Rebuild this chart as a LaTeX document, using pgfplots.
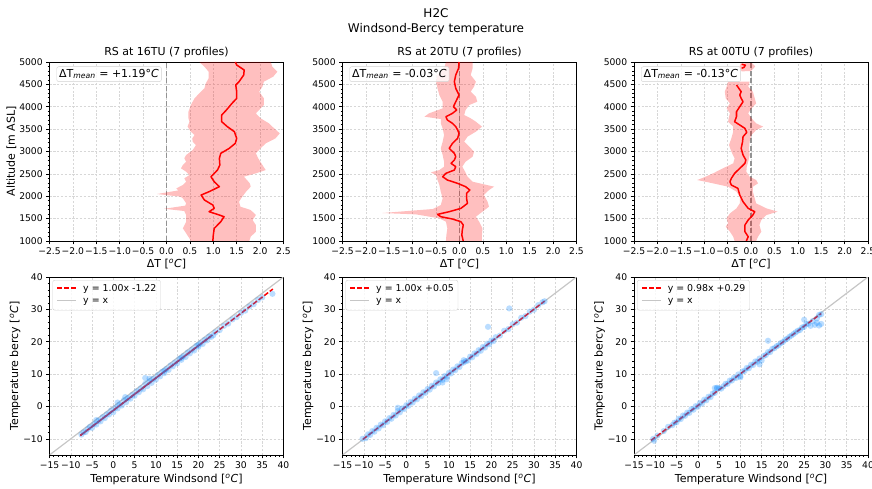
\documentclass[border=0pt]{standalone}
\usepackage{fontspec}
\setmainfont{DejaVu Sans}
\usepackage{pgfplots}
\pgfplotsset{compat=1.18}
\definecolor{scat}{RGB}{30,144,255}
\definecolor{gridc}{RGB}{215,215,215}
% legend samples
\newcommand{\fitkey}{\tikz[baseline=-0.35em]\draw[red, line width=1.5pt, dash pattern=on 5pt off 2pt] (0pt,0pt) -- (19pt,0pt);}
\newcommand{\idkey}{\tikz[baseline=-0.35em]\draw[gray!45, line width=1.2pt] (0pt,0pt) -- (19pt,0pt);}
\newcommand{\legtab}[1]{\fontsize{9.4}{12.5}\selectfont
  \begin{tabular}{@{}l@{\hspace{6pt}}l@{}}\fitkey & #1\\ \idkey & y = x\end{tabular}}

\tikzset{
  dtbox/.style={draw=gray!35, rounded corners=2pt, fill=white, fill opacity=0.8,
    text opacity=1, anchor=north west, font=\fontsize{11}{13}\selectfont, inner sep=2.5pt},
  legbox/.style={draw=gray!35, rounded corners=2pt, fill=white, fill opacity=0.8,
    text opacity=1, anchor=north west, inner xsep=4pt, inner ysep=2.5pt},
}
\pgfplotsset{
  base/.style={
    scale only axis, width=234pt, anchor=north west,
    axis line style={line width=0.6pt},
    tick align=outside, tick pos=left,
    major tick length=3.3pt, minor tick length=1.9pt,
    every tick/.style={black, line width=0.6pt},
    grid=major,
    major grid style={gridc, dash pattern=on 2.2pt off 1.6pt, line width=0.5pt},
    tick label style={font=\fontsize{9.2}{10}\selectfont},
    label style={font=\fontsize{11}{13}\selectfont},
    title style={font=\fontsize{11}{13}\selectfont, yshift=-5pt},
    ylabel style={yshift=-4pt},
    /pgf/number format/assume math mode=true,
    /pgf/number format/1000 sep={},
  },
  toprow/.style={base, height=179pt,
    xmin=-2.5, xmax=2.5, ymin=1000, ymax=5000,
    xtick={-2.5,-2,-1.5,-1,-0.5,0,0.5,1,1.5,2,2.5},
    xticklabels={−2.5,−2.0,−1.5,−1.0,−0.5,0.0,0.5,1.0,1.5,2.0,2.5},
    ytick={1000,1500,2000,2500,3000,3500,4000,4500,5000},
    minor y tick num=4,
    xlabel={ΔT [\textsuperscript{\textit{o}}\textit{C}]},
    xlabel style={yshift=2.5pt},
  },
  botrow/.style={base, height=178pt,
    xmin=-15, xmax=40, ymin=-15, ymax=40,
    xtick={-15,-10,-5,0,5,10,15,20,25,30,35,40},
    xticklabels={−15,−10,−5,0,5,10,15,20,25,30,35,40},
    ytick={-10,0,10,20,30,40},
    yticklabels={−10,0,10,20,30,40},
    minor x tick num=4, minor y tick num=4,
    xlabel={Temperature Windsond [\textsuperscript{\textit{o}}\textit{C}]},
    xlabel style={yshift=1.5pt},
    ylabel={Temperature bercy [\textsuperscript{\textit{o}}\textit{C}]},
  },
  pband/.style={draw=none, fill=red, fill opacity=0.25},
  pmean/.style={red, line width=1.5pt, line join=round},
  pzero/.style={gray!85, dash pattern=on 5pt off 2.5pt, line width=1.1pt},
  pcloud/.style={only marks, mark=*, mark size=3.1pt, color=scat,
    mark options={fill=scat, draw opacity=0, fill opacity=0.3}},
  pfit/.style={color=red, line width=1.5pt, dash pattern=on 5pt off 2pt},
  pident/.style={color=gray!45, line width=1.2pt},
}

\begin{document}
\begin{tikzpicture}
\path[use as bounding box] (0pt,0pt) rectangle (872pt,-489pt);

% figure title
\node[font=\fontsize{12}{14}\selectfont] at (436pt,-13pt) {H2C};
\node[font=\fontsize{12}{14}\selectfont] at (436pt,-29pt) {Windsond-Bercy temperature};

% ---------------- top row: temperature difference profiles
\begin{axis}[toprow, at={(49.5pt,-62pt)}, title={RS at 16TU (7 profiles)}, ylabel={Altitude [m ASL]}]
\addplot[pzero] coordinates {(0,1000) (0,5000)};
\addplot[pband] coordinates {
(0.52,1000)(0.49,1059)(0.42,1171)(0.35,1282)(0.42,1431)(0.42,1580)(0.38,1670)(-0.05,1720)
(0.40,1790)(0.42,1841)(0.35,1953)(0.30,1990)(-0.20,2050)(0.25,2130)(0.21,2176)(0.35,2251)
(0.42,2325)(0.38,2400)(0.49,2474)(0.42,2549)(0.31,2623)(0.35,2698)(0.42,2772)(0.38,2847)
(0.42,2921)(0.56,3033)(0.63,3145)(0.56,3219)(0.55,3294)(0.60,3368)(0.52,3443)(0.45,3555)
(0.49,3666)(0.47,3741)(0.47,3890)(0.52,4039)(0.60,4188)(0.70,4300)(0.81,4411)(0.84,4523)
(0.90,4635)(0.90,4784)(0.81,4896)(0.70,5000)
(2.23,5000)(2.26,4896)(2.37,4784)(2.28,4672)(2.08,4560)(2.05,4449)(1.98,4337)(2.08,4188)
(2.08,4039)(1.91,3853)(2.01,3741)(2.19,3629)(2.30,3517)(2.42,3406)(2.33,3294)(2.12,3182)
(2.01,3070)(1.91,2959)(1.96,2847)(2.05,2698)(2.12,2586)(1.91,2512)(1.65,2437)(1.72,2363)
(1.78,2288)(1.80,2214)(1.70,2102)(1.62,1990)(1.55,1878)(1.58,1767)(1.80,1692)(1.91,1580)
(1.84,1469)(1.91,1357)(1.91,1208)(1.80,1096)(1.77,1000)} -- cycle;
\addplot[pmean] coordinates {
(0.99,1000)(1.00,1133)(1.02,1282)(1.16,1431)(1.23,1543)(1.13,1580)(0.91,1655)(1.02,1729)
(0.99,1804)(0.81,1916)(0.74,2027)(0.91,2102)(1.13,2214)(1.02,2325)(0.95,2437)(1.09,2586)
(1.14,2698)(1.13,2847)(1.16,2959)(1.34,3070)(1.47,3182)(1.50,3294)(1.45,3443)(1.30,3555)
(1.18,3666)(1.18,3815)(1.28,3927)(1.40,4076)(1.50,4188)(1.50,4337)(1.48,4486)(1.55,4560)
(1.65,4709)(1.66,4821)(1.50,4933)(1.47,5000)};
\node[dtbox] at (axis description cs:0.03,0.975) {ΔT\textsubscript{\textit{mean}} = +1.19°\textit{C}};
\end{axis}

\begin{axis}[toprow, at={(342.5pt,-62pt)}, title={RS at 20TU (7 profiles)}]
\addplot[pzero] coordinates {(0,1000) (0,5000)};
\addplot[pband] coordinates {
(-0.29,1000)(-0.28,1133)(-0.26,1282)(-0.29,1431)(-0.43,1506)(-0.93,1595)(-1.65,1625)(-0.57,1715)
(-0.40,1804)(-0.36,1953)(-0.40,2102)(-0.43,2251)(-0.47,2363)(-0.50,2474)(-0.61,2534)(-0.43,2586)
(-0.33,2661)(-0.33,2772)(-0.36,2921)(-0.40,3070)(-0.36,3219)(-0.33,3368)(-0.36,3517)(-0.40,3629)
(-0.40,3726)(-0.75,3778)(-0.65,3853)(-0.36,3964)(-0.36,4113)(-0.43,4262)(-0.47,4411)(-0.50,4560)
(-0.47,4709)(-0.33,4858)(-0.29,5000)
(0.28,5000)(0.28,4858)(0.24,4709)(0.35,4560)(0.31,4449)(0.24,4337)(0.35,4225)(0.38,4113)
(0.21,4039)(0.13,3927)(0.10,3815)(0.24,3741)(0.35,3666)(0.48,3555)(0.35,3443)(0.17,3331)
(0.10,3219)(0.21,3108)(0.31,2996)(0.28,2884)(0.13,2772)(0.06,2661)(0.12,2549)(0.17,2437)
(0.28,2325)(0.74,2214)(0.63,2139)(0.52,2027)(0.60,1878)(0.63,1767)(0.49,1655)(0.35,1543)
(0.42,1431)(0.49,1282)(0.48,1133)(0.48,1000)} -- cycle;
\addplot[pmean] coordinates {
(0.08,1000)(0.05,1133)(0.06,1245)(0.08,1357)(0.03,1431)(-0.15,1491)(-0.40,1543)(-0.47,1595)
(-0.22,1655)(0.03,1729)(0.17,1841)(0.15,1953)(0.15,2065)(0.22,2139)(0.13,2214)(-0.04,2288)
(-0.26,2363)(-0.36,2437)(-0.29,2512)(-0.11,2586)(-0.08,2661)(-0.18,2735)(-0.11,2810)(-0.08,2884)
(-0.11,2959)(-0.22,3070)(-0.15,3182)(-0.04,3294)(-0.01,3406)(-0.04,3480)(-0.08,3555)(-0.15,3629)
(-0.26,3704)(-0.29,3778)(-0.15,3853)(-0.06,3927)(-0.13,4002)(-0.08,4113)(-0.01,4262)(-0.08,4411)
(-0.11,4560)(-0.08,4709)(-0.02,4858)(-0.01,5000)};
\node[dtbox] at (axis description cs:0.03,0.975) {ΔT\textsubscript{\textit{mean}} = -0.03°\textit{C}};
\end{axis}

\begin{axis}[toprow, at={(634pt,-62pt)}, title={RS at 00TU (7 profiles)}]
\addplot[pzero] coordinates {(0,1000) (0,5000)};
\addplot[pband] coordinates {
(-0.35,1000)(-0.38,1096)(-0.45,1208)(-0.54,1320)(-0.49,1394)(-0.52,1506)(-0.45,1617)(-0.31,1729)
(-0.24,1841)(-0.24,1990)(-0.31,2102)(-0.49,2214)(-0.81,2288)(-1.15,2363)(-1.02,2415)(-0.81,2512)
(-0.60,2623)(-0.38,2735)(-0.35,2847)(-0.42,2996)(-0.47,3145)(-0.42,3294)(-0.38,3443)(-0.38,3555)
(-0.49,3666)(-0.47,3778)(-0.45,3853)(-0.52,3964)(-0.45,4076)(-0.54,4188)(-0.56,4337)(-0.52,4449)
(-0.49,4560)
(-0.03,4560)(-0.06,4449)(0.04,4337)(0.08,4188)(0.11,4076)(0.01,3964)(-0.06,3853)(0.01,3741)
(0.11,3629)(0.26,3555)(0.11,3480)(0.01,3368)(-0.03,3219)(-0.04,3070)(-0.03,2921)(-0.06,2772)
(-0.09,2661)(-0.10,2549)(-0.03,2437)(0.11,2363)(0.15,2288)(0.04,2214)(0.04,2102)(0.08,1953)
(0.11,1841)(0.33,1729)(0.57,1655)(0.33,1580)(0.22,1469)(0.18,1357)(0.22,1208)(0.15,1096)
(0.11,1000)} -- cycle;
\addplot[pband] coordinates {
(-0.22,4970)(0.02,4975)(0.09,4900)(0.00,4800)(-0.20,4790)(-0.25,4880)} -- cycle;
\addplot[pmean] coordinates {
(-0.10,1000)(-0.06,1096)(-0.13,1208)(-0.13,1357)(-0.06,1469)(0.04,1580)(0.08,1655)(-0.06,1729)
(-0.17,1878)(-0.24,2027)(-0.28,2176)(-0.42,2251)(-0.45,2325)(-0.42,2400)(-0.35,2512)(-0.24,2623)
(-0.13,2735)(-0.11,2810)(-0.17,2921)(-0.21,3070)(-0.18,3219)(-0.17,3331)(-0.09,3428)(-0.13,3517)
(-0.24,3592)(-0.35,3666)(-0.31,3778)(-0.31,3890)(-0.24,4002)(-0.17,4113)(-0.21,4188)(-0.24,4262)
(-0.21,4337)(-0.26,4411)(-0.31,4486)};
\addplot[pmean] coordinates {(-0.20,4950)(-0.12,4930)(-0.15,4880)(-0.20,4860)};
\node[dtbox] at (axis description cs:0.03,0.975) {ΔT\textsubscript{\textit{mean}} = -0.13°\textit{C}};
\end{axis}

% ---------------- bottom row: scatter of Bercy vs Windsond
\begin{axis}[botrow, at={(49.5pt,-277pt)}]
\addplot[pident] coordinates {(-15,-15) (40,40)};
\addplot[pcloud] coordinates {
(-7.5,-8.7)(-7,-8.0)(-6.5,-7.9)(-6,-7.0)(-5.5,-6.3)(-5,-6.6)(-4.5,-5.4)(-4,-5.6)(-3.5,-4.4)
(-3,-4.6)(-2.5,-3.3)(-2,-3.6)(-1.5,-2.4)(-1,-2.5)(-0.5,-1.2)(0,-1.8)(0.5,-0.4)(1,-0.6)
(1.5,0.6)(2,0.3)(2.5,1.9)(3,1.3)(3.5,2.6)(4,2.4)(4.5,3.6)(5,3.3)(5.5,4.7)(6,4.4)(6.5,5.6)
(7,5.3)(7.5,7.0)(8,6.3)(8.5,7.8)(9,7.3)(9.5,8.6)(10,8.3)(10.5,9.7)(11,9.3)(11.5,10.7)
(12,10.3)(12.5,11.6)(13,11.3)(13.5,12.7)(14,12.4)(14.5,13.6)(15,13.3)(15.5,14.7)(16,14.4)
(16.5,15.6)(17,15.3)(17.5,16.7)(18,16.4)(18.5,17.6)(19,17.3)(19.5,18.7)(20,18.4)(20.5,19.6)
(21,19.3)(21.5,20.6)(22,20.4)(22.5,21.6)(23,21.5)(23.5,22.0)(24,22.9)(25,23.6)(26,24.9)
(27,25.6)(28,26.9)(29,27.6)(30,28.9)(31,29.6)(32,30.9)(33,31.6)(34,32.9)(35,33.7)(37.4,34.8)
(7.5,8.8)(8.5,8.6)(2.8,2.9)(1,1.2)(-4,-4.2)(12,11.0)(16,15.0)(20,19.0)};
\addplot[color=red, line width=1.5pt] coordinates {(-7.75,-8.97) (22.8,21.58)};
\addplot[pfit] coordinates {(-7.75,-8.97) (37.5,36.28)};
\node[legbox] at (axis description cs:0.013,0.983) {\legtab{y = 1.00x -1.22}};
\end{axis}

\begin{axis}[botrow, at={(342.5pt,-277pt)}]
\addplot[pident] coordinates {(-15,-15) (40,40)};
\addplot[pcloud] coordinates {
(-10.3,-10.0)(-9.5,-9.8)(-9,-8.6)(-8.5,-8.8)(-8,-7.6)(-7.5,-7.8)(-7,-6.6)(-6.5,-6.8)(-6,-5.6)
(-5.5,-5.8)(-5,-4.6)(-4.5,-4.8)(-4,-3.6)(-3.5,-3.8)(-3,-2.6)(-2.5,-2.8)(-2,-1.4)(-1.5,-1.8)
(-1,-0.6)(-0.5,-0.8)(0,0.4)(0.5,0.2)(1,1.4)(1.5,1.2)(2,2.4)(2.5,2.2)(3,3.4)(3.5,3.2)(4,4.4)
(4.5,4.2)(5,5.4)(5.5,5.2)(6,6.4)(6.5,6.2)(7,7.4)(7.5,7.2)(8,8.4)(8.5,8.2)(9,9.4)(9.5,9.2)
(10,10.4)(10.5,10.2)(11,11.4)(11.5,11.2)(12,12.4)(12.5,12.2)(13,13.4)(13.5,13.6)(14,14.0)
(14.5,14.2)(15,15.4)(15.5,15.2)(16,16.4)(16.5,16.2)(17,17.4)(17.5,17.2)(18,18.4)(18.5,18.2)
(19,19.4)(19.5,19.2)(20,20.4)(20.5,20.2)(21,21.4)(22,21.9)(23,23.4)(24,23.9)(25,25.4)
(26,25.9)(27,27.4)(28,27.9)(29,29.3)(30,29.9)(31,31.3)(32,32.2)(32.5,32.5)
(19.2,24.6)(24.2,30.3)(7,10.3)(-2,-0.4)(13.5,14.3)(8.5,7.4)(9.5,8.4)};
\addplot[pfit] coordinates {(-10.2,-10.15) (32.5,32.55)};
\node[legbox] at (axis description cs:0.013,0.983) {\legtab{y = 1.00x +0.05}};
\end{axis}

\begin{axis}[botrow, at={(634pt,-277pt)}]
\addplot[pident] coordinates {(-15,-15) (40,40)};
\addplot[pcloud] coordinates {
(-10.5,-10.0)(-10.3,-10.6)(-9.5,-9.0)(-8,-7.6)(-7,-6.3)(-6,-5.8)(-5.5,-5.0)(-5,-4.9)
(-4.5,-3.8)(-4,-3.9)(-3.5,-2.8)(-3,-2.9)(-2.5,-1.9)(-2,-2.0)(-1.5,-0.8)(-1,-1.0)(-0.5,0.1)
(0,-0.1)(0.5,1.1)(1,0.9)(1.5,2.1)(2,1.9)(2.5,3.0)(3,2.9)(3.5,4.0)(4,4.2)(4.5,5.6)(5,5.6)
(5.5,5.5)(6,6.2)(6.5,7.0)(7,7.0)(7.5,8.0)(8,8.0)(8.5,8.9)(9,8.8)(9.5,9.9)(10,9.4)(10.5,10.8)
(11,11.0)(11.5,11.9)(12,11.8)(12.5,12.9)(13,12.8)(13.5,13.9)(14,13.8)(14.5,14.8)(15,14.2)
(15.5,15.6)(16,15.9)(16.5,16.8)(17,16.8)(17.5,17.8)(18,18.0)(18.5,18.6)(19,18.9)(19.5,19.6)
(20,19.9)(20.5,20.6)(21,20.9)(21.5,21.5)(22,21.9)(22.5,22.4)(23,22.9)(23.5,23.4)(24,23.6)
(24.5,24.4)(25,24.6)(25.5,25.4)(26,25.6)(27,26.4)(28,27.2)(28.5,28.3)(29,28.5)
(25,26.8)(26.5,24.9)(27.5,25.2)(28.5,25.0)(29,25.5)(28,25.8)(16.5,20.3)(14.5,13.0)(10,9.0)
(4.5,5.8)(4,5.7)};
\addplot[pfit] coordinates {(-11,-10.49) (29,28.71)};
\node[legbox] at (axis description cs:0.013,0.983) {\legtab{y = 0.98x +0.29}};
\end{axis}
\end{tikzpicture}
\end{document}
